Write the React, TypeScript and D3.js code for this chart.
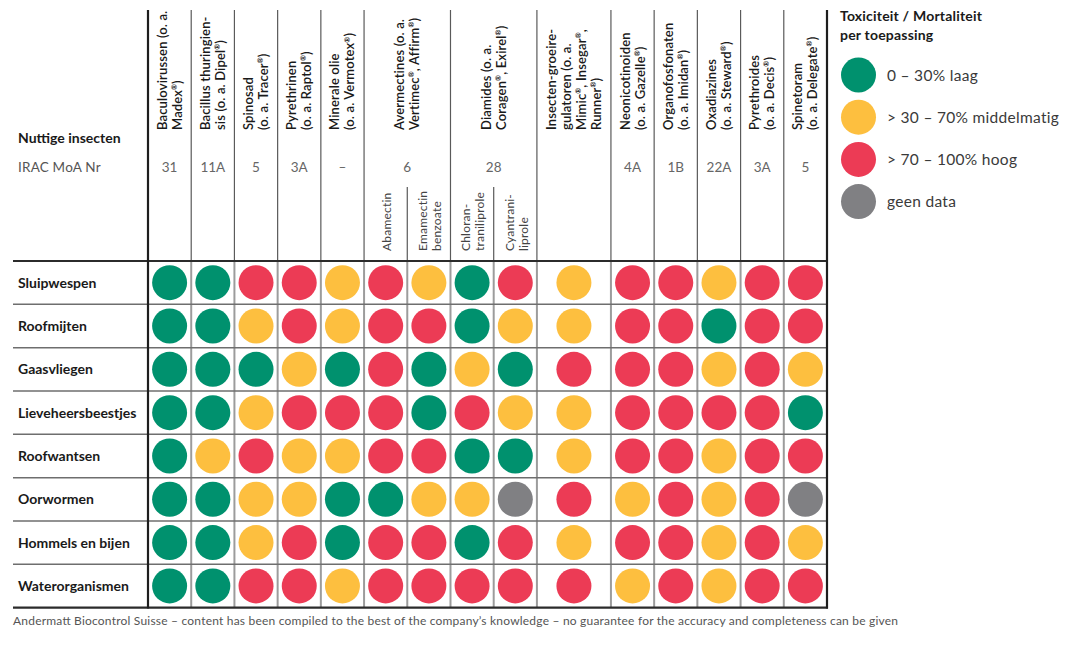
import React from "react";
import * as d3 from "d3";

// ---------- data ----------
const insects = [
  "Sluipwespen",
  "Roofmijten",
  "Gaasvliegen",
  "Lieveheersbeestjes",
  "Roofwantsen",
  "Oorwormen",
  "Hommels en bijen",
  "Waterorganismen",
];

const products = [
  "Baculovirussen",
  "Bacillus thuringiensis",
  "Spinosad",
  "Pyrethrinen",
  "Minerale olie",
  "Abamectin",
  "Emamectin benzoate",
  "Chlorantraniliprole",
  "Cyantraniliprole",
  "Insecten-groeiregulatoren",
  "Neonicotinoiden",
  "Organofosfonaten",
  "Oxadiazines",
  "Pyrethroides",
  "Spinetoram",
];

// header groups: label lines, first & last product index, IRAC MoA number
const headerLabels = [
  ["Baculovirussen (o. a.", "Madex®)"],
  ["Bacillus thuringien-", "sis (o. a. Dipel®)"],
  ["Spinosad", "(o. a. Tracer®)"],
  ["Pyrethrinen", "(o. a. Raptol®)"],
  ["Minerale olie", "(o. a. Vermotex®)"],
  ["Avermectines (o. a.", "Vertimec®, Affirm®)"],
  ["Diamides (o. a.", "Coragen®, Exirel®)"],
  ["Insecten-groeire-", "gulatoren (o. a.", "Mimic®, Insegar®,", "Runner®)"],
  ["Neonicotinoiden", "(o. a. Gazelle®)"],
  ["Organofosfonaten", "(o. a. Imidan®)"],
  ["Oxadiazines", "(o. a. Steward®)"],
  ["Pyrethroides", "(o. a. Decis®)"],
  ["Spinetoram", "(o. a. Delegate®)"],
];
const headerSpans = [
  [0, 0], [1, 1], [2, 2], [3, 3], [4, 4], [5, 6], [7, 8], [9, 9],
  [10, 10], [11, 11], [12, 12], [13, 13], [14, 14],
];
const iracNumbers = ["31", "11A", "5", "3A", "–", "6", "28", "", "4A", "1B", "22A", "3A", "5"];

// sub labels for split groups (product index -> lines)
const subLabelIndex = [5, 6, 7, 8];
const subLabels = [
  ["Abamectin"],
  ["Emamectin", "benzoate"],
  ["Chloran-", "traniliprole"],
  ["Cyantrani-", "liprole"],
];

// ratings: L = 0–30% laag, M = >30–70% middelmatig, H = >70–100% hoog, N = geen data
const sluipwespen = ["L", "L", "H", "H", "M", "H", "M", "L", "H", "M", "H", "H", "M", "H", "H"];
const roofmijten = ["L", "L", "M", "H", "M", "H", "H", "L", "M", "M", "H", "H", "L", "H", "H"];
const gaasvliegen = ["L", "L", "L", "M", "L", "H", "L", "M", "L", "H", "H", "H", "M", "H", "M"];
const lieveheersbeestjes = ["L", "L", "M", "H", "H", "H", "L", "H", "M", "M", "H", "H", "H", "H", "L"];
const roofwantsen = ["L", "M", "H", "M", "M", "H", "H", "L", "L", "M", "H", "H", "M", "H", "H"];
const oorwormen = ["L", "L", "M", "M", "L", "L", "M", "M", "N", "H", "M", "H", "M", "H", "N"];
const hommelsEnBijen = ["L", "L", "M", "H", "L", "H", "H", "L", "H", "M", "H", "H", "M", "H", "M"];
const waterorganismen = ["L", "L", "H", "H", "M", "H", "H", "H", "H", "H", "M", "H", "M", "H", "H"];
const ratings = [
  sluipwespen, roofmijten, gaasvliegen, lieveheersbeestjes,
  roofwantsen, oorwormen, hommelsEnBijen, waterorganismen,
];

const levels = ["L", "M", "H", "N"];
const levelLabels = ["0 – 30% laag", "> 30 – 70% middelmatig", "> 70 – 100% hoog", "geen data"];
const levelColors = ["#00916E", "#FDBF3F", "#EC3B55", "#808083"];

const legendTitle = ["Toxiciteit / Mortaliteit", "per toepassing"];
const footer =
  "Andermatt Biocontrol Suisse – content has been compiled to the best of the company’s knowledge – no guarantee for the accuracy and completeness can be given";

// ---------- layout ----------
const W = 1073;
const H = 657;
const FONT = "Lato, 'Open Sans', 'DejaVu Sans', sans-serif";
const tableLeft = 13;
const gridLeft = 148;
const gridRight = 827;
const headerTop = 10;
const gridTop = 261;
const gridBottom = 607.6;
const colUnits = products.map((p, i) => (i === 9 ? 1.713 : 1));

function App() {
  const cum = [0];
  colUnits.forEach((u) => cum.push(cum[cum.length - 1] + u));
  const x = d3.scaleLinear().domain([0, cum[cum.length - 1]]).range([gridLeft, gridRight]);
  const colLeft = (i: number) => x(cum[i]);
  const colRight = (i: number) => x(cum[i + 1]);
  const colCenter = (i: number) => (colLeft(i) + colRight(i)) / 2;

  const y = d3.scaleBand<string>().domain(insects).range([gridTop, gridBottom]).padding(0);
  const color = d3.scaleOrdinal<string, string>().domain(levels).range(levelColors);

  const r = 17.5;

  // render text with ® superscripts
  const renderRich = (s: string, size: number) => {
    const parts = s.split("®");
    const out: any[] = [];
    parts.forEach((p, i) => {
      out.push(
        <tspan key={"p" + i} dy={i > 0 ? size * 0.38 : 0}>
          {p}
        </tspan>
      );
      if (i < parts.length - 1) {
        out.push(
          <tspan key={"r" + i} fontSize={size * 0.55} dy={-size * 0.38}>
            ®
          </tspan>
        );
      }
    });
    return out;
  };

  const boundaries = cum.map((_, i) => x(cum[i]));
  const subDividers = [6, 8]; // boundaries that only appear below the group label

  return (
    <svg
      width={W}
      height={H}
      style={{ position: "absolute", left: 0, top: 0, background: "#fff" }}
      fontFamily={FONT}
    >
      <rect x={0} y={0} width={W} height={H} fill="#fff" />

      {/* header vertical lines */}
      {boundaries.map((bx, i) => {
        if (i === 0 || i === boundaries.length - 1) return null;
        const isSub = subDividers.includes(i);
        return (
          <line
            key={"hv" + i}
            x1={bx}
            x2={bx}
            y1={isSub ? 187 : headerTop}
            y2={gridTop}
            stroke="#5a5a5a"
            strokeWidth={1.2}
          />
        );
      })}

      {/* grid vertical lines */}
      {boundaries.map((bx, i) => {
        if (i === 0 || i === boundaries.length - 1) return null;
        return (
          <line
            key={"gv" + i}
            x1={bx}
            x2={bx}
            y1={gridTop}
            y2={gridBottom}
            stroke="#9c9c9c"
            strokeWidth={2}
          />
        );
      })}

      {/* row separators */}
      {insects.slice(1).map((ins) => (
        <line
          key={"rs" + ins}
          x1={tableLeft}
          x2={gridRight}
          y1={y(ins)!}
          y2={y(ins)!}
          stroke="#6e6e6e"
          strokeWidth={1.5}
        />
      ))}

      {/* thick borders */}
      <line x1={tableLeft} x2={gridRight + 1} y1={gridTop} y2={gridTop} stroke="#2b2b2b" strokeWidth={2} />
      <line x1={tableLeft} x2={gridRight + 1} y1={gridBottom} y2={gridBottom} stroke="#2b2b2b" strokeWidth={2.2} />
      <line x1={gridLeft} x2={gridLeft} y1={headerTop} y2={gridBottom + 1} stroke="#1e1e1e" strokeWidth={2.2} />
      <line x1={gridRight} x2={gridRight} y1={headerTop} y2={gridBottom + 1} stroke="#1e1e1e" strokeWidth={2.2} />

      {/* header labels */}
      {headerLabels.map((lines, gi) => {
        const [a, b] = headerSpans[gi];
        const cx = (colLeft(a) + colRight(b)) / 2;
        const ls = 15;
        return (
          <g key={"hl" + gi}>
            {lines.map((ln, li) => {
              const bx = cx - ((lines.length - 1) * ls) / 2 + 4.5 + li * ls;
              return (
                <text
                  key={li}
                  transform={`translate(${bx},130) rotate(-90)`}
                  fontSize={13}
                  fontWeight={600}
                  letterSpacing={0.15}
                  fill="#1a1a1a"
                >
                  {renderRich(ln, 13)}
                </text>
              );
            })}
            {iracNumbers[gi] && (
              <text x={cx} y={171.5} textAnchor="middle" fontSize={13.5} fill="#666">
                {iracNumbers[gi]}
              </text>
            )}
          </g>
        );
      })}

      {/* sub labels */}
      {subLabels.map((lines, si) => {
        const ci = subLabelIndex[si];
        const cx = colCenter(ci) + 1;
        const ls = 14;
        return (
          <g key={"sl" + si}>
            {lines.map((ln, li) => {
              const bx = cx - ((lines.length - 1) * ls) / 2 + 4.2 + li * ls;
              return (
                <text
                  key={li}
                  transform={`translate(${bx},251) rotate(-90)`}
                  fontSize={12}
                  fontWeight={400}
                  letterSpacing={0.2}
                  fill="#444"
                >
                  {ln}
                </text>
              );
            })}
          </g>
        );
      })}

      {/* left header texts */}
      <text x={18} y={143} fontSize={14} fontWeight={700} fill="#1a1a1a">
        Nuttige insecten
      </text>
      <text x={18} y={171.5} fontSize={13.5} letterSpacing={0.2} fill="#555">
        IRAC MoA Nr
      </text>

      {/* row labels */}
      {insects.map((ins) => (
        <text
          key={"rl" + ins}
          x={18}
          y={y(ins)! + y.bandwidth() / 2 + 5}
          fontSize={14}
          fontWeight={700}
          fill="#1a1a1a"
        >
          {ins}
        </text>
      ))}

      {/* circles */}
      {ratings.map((row, ri) =>
        row.map((lv, ci) => (
          <circle
            key={ri + "-" + ci}
            cx={colCenter(ci)}
            cy={y(insects[ri])! + y.bandwidth() / 2}
            r={r}
            fill={color(lv)}
          />
        ))
      )}

      {/* legend */}
      {legendTitle.map((t, i) => (
        <text key={"lt" + i} x={840} y={21 + i * 18.5} fontSize={14} fontWeight={700} letterSpacing={0.2} fill="#1a1a1a">
          {t}
        </text>
      ))}
      {levels.map((lv, i) => (
        <g key={"lg" + lv}>
          <circle cx={858.5} cy={75 + i * 42.2} r={17.5} fill={color(lv)} />
          <text x={887} y={75 + i * 42.2 + 5.5} fontSize={15.5} letterSpacing={0.3} fill="#3a3a3a">
            {levelLabels[i]}
          </text>
        </g>
      ))}

      {/* footer */}
      <text x={13} y={625} fontSize={12} fill="#555" textLength={885} lengthAdjust="spacing">
        {footer}
      </text>
    </svg>
  );
}

export default App;
